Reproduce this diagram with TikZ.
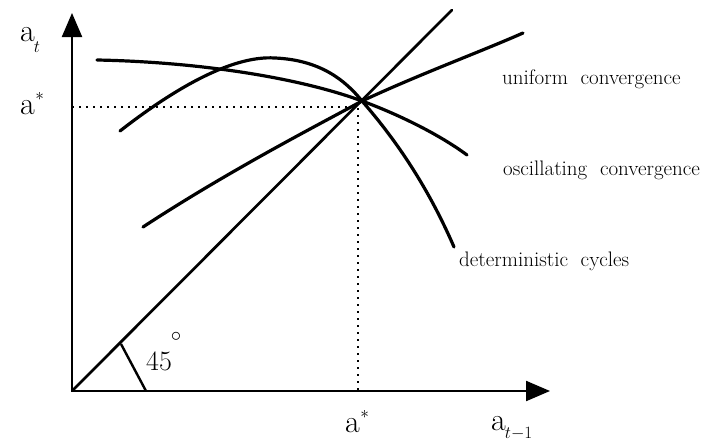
\documentclass[tikz,border=0pt]{standalone}
\usetikzlibrary{arrows.meta}
\begin{document}
\begin{tikzpicture}[x=1pt,y=-1pt,
  axis/.style={line width=2.2pt, -{Triangle[length=24pt,width=20pt]}},
  curve/.style={line width=3.2pt, line cap=round, line join=round},
  diag/.style={line width=2.7pt, line cap=round},
  guide/.style={line width=2pt, dash pattern=on 1.6pt off 5.4pt},
  lab/.style={font=\fontsize{21}{24}\selectfont, anchor=base west, inner sep=0pt},
  sym/.style={font=\fontsize{32}{32}\selectfont, anchor=base west, inner sep=0pt},
]
\useasboundingbox (0,0) rectangle (708,442);
% axes
\coordinate (O) at (72,391);
\coordinate (Ytip) at (72,13);
\coordinate (Xtip) at (550,391);
\draw[axis] (O) -- (Ytip);
\draw[axis] (O) -- (Xtip);
% 45 degree line
\coordinate (Dtop) at (452,10);
\draw[diag] (O) -- (Dtop);
% angle marker
\coordinate (m1) at (121,344);
\coordinate (m2) at (146,391);
\draw[line width=2.4pt] (m1) -- (m2);
% dotted guides
\coordinate (astar) at (358,107);
\coordinate (ya) at (72,107);
\coordinate (xa) at (358,391);
\draw[guide] (ya) -- (astar) -- (xa);
% fixed point
\coordinate (F) at (362,101);
% deterministic cycles
\coordinate (c0) at (120,131);
\coordinate (cp) at (275,58);
\coordinate (c1) at (454,247);
\draw[curve] (c0) .. controls (170,92) and (230,55) .. (cp)
  .. controls (320,60) and (345,80) .. (F)
  .. controls (390,133) and (425,180) .. (c1);
% oscillating convergence
\coordinate (o0) at (97,60);
\coordinate (o1) at (467,155);
\draw[curve] (o0) .. controls (200,62) and (300,78) .. (F)
  .. controls (400,115) and (440,135) .. (o1);
% uniform convergence
\coordinate (u0) at (143,227);
\coordinate (u1) at (523,33);
\draw[curve] (u0) .. controls (230,170) and (320,124) .. (F)
  .. controls (420,74) and (480,52) .. (u1);
% labels
\node[lab] (lu) at (502,84) {uniform\ \ convergence};
\node[lab] (lo) at (503,175) {oscillating\ \ convergence};
\node[lab] (ld) at (459,266) {deterministic\ \ cycles};
\node[sym] (at) at (20,41) {a\kern-1pt\raisebox{-11pt}{\fontsize{16}{16}\selectfont$t$}};
\node[sym] (as1) at (20,114) {a\kern0.5pt\raisebox{13.5pt}{\fontsize{16}{16}\selectfont$\ast$}};
\node[sym] (as2) at (345,432) {a\kern0.5pt\raisebox{13.5pt}{\fontsize{16}{16}\selectfont$\ast$}};
\node[sym] (at1) at (491,430) {a\kern-1pt\raisebox{-8pt}{\fontsize{16}{16}\selectfont$t{-}1$}};
\node[font=\fontsize{28}{28}\selectfont, anchor=base west, inner sep=0pt] (d45) at (146,370) {45};
\node[font=\fontsize{22}{22}\selectfont, inner sep=0pt] (deg) at (176,337) {$\circ$};
\end{tikzpicture}
\end{document}
